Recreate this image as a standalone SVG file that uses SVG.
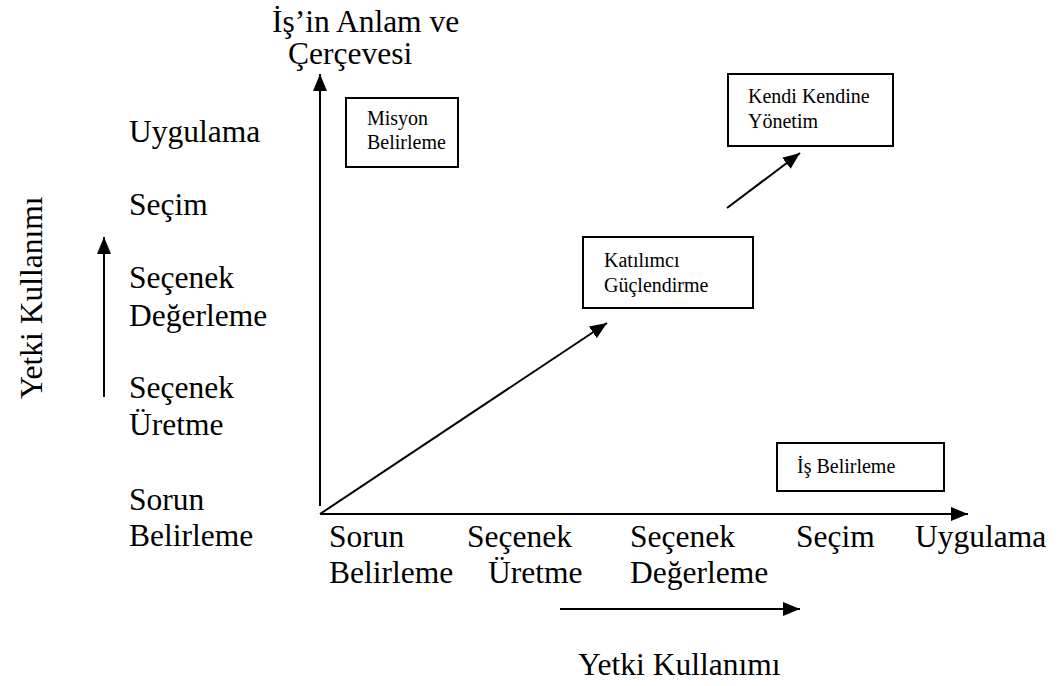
<svg xmlns="http://www.w3.org/2000/svg" width="1058" height="686" viewBox="0 0 1058 686">
  <style>
    .lbl { font-size: 31.5px; }
    .box { fill: #fff; stroke: #000; stroke-width: 2; }
    .bt { font-size: 20px; }
    .ln { stroke: #000; stroke-width: 2; fill: none; }
  </style>
  <defs>
    <marker id="ah" markerUnits="userSpaceOnUse" markerWidth="17" markerHeight="14" refX="17" refY="7" orient="auto">
      <path d="M0,0 L17,7 L0,14 z" fill="#000"/>
    </marker>
  </defs>
  <rect width="1058" height="686" fill="#fff"/>

  <!-- axes and arrows -->
  <g id="connectors">
    <line class="ln" x1="320" y1="506" x2="320" y2="74" marker-end="url(#ah)"/>
    <line class="ln" x1="320" y1="514" x2="968" y2="514" marker-end="url(#ah)"/>
    <line class="ln" x1="320" y1="514" x2="607" y2="323" marker-end="url(#ah)"/>
    <line class="ln" x1="727" y1="208" x2="800" y2="153" marker-end="url(#ah)"/>
    <line class="ln" x1="104" y1="397" x2="104" y2="237" marker-end="url(#ah)"/>
    <line class="ln" x1="560" y1="609" x2="800" y2="609" marker-end="url(#ah)"/>
  </g>

  <g font-family="'Liberation Serif', 'DejaVu Serif', serif" fill="#000">
    <!-- axis titles -->
    <g id="title-vertical">
      <text class="lbl" x="272" y="32">İş’in Anlam ve</text>
      <text class="lbl" x="288" y="64">Çerçevesi</text>
    </g>
    <text id="title-left" class="lbl" transform="translate(42,399) rotate(-90)">Yetki Kullanımı</text>
    <text id="title-bottom" class="lbl" x="578" y="675">Yetki Kullanımı</text>

    <!-- vertical scale -->
    <g id="scale-y">
      <text class="lbl" x="129" y="142">Uygulama</text>
      <text class="lbl" x="129" y="215">Seçim</text>
      <text class="lbl" x="129" y="288">Seçenek</text>
      <text class="lbl" x="129" y="326">Değerleme</text>
      <text class="lbl" x="129" y="398">Seçenek</text>
      <text class="lbl" x="129" y="435">Üretme</text>
      <text class="lbl" x="129" y="510">Sorun</text>
      <text class="lbl" x="129" y="546">Belirleme</text>
    </g>

    <!-- horizontal scale -->
    <g id="scale-x">
      <text class="lbl" x="329" y="547">Sorun</text>
      <text class="lbl" x="329" y="583">Belirleme</text>
      <text class="lbl" x="467" y="547">Seçenek</text>
      <text class="lbl" x="488" y="583">Üretme</text>
      <text class="lbl" x="630" y="547">Seçenek</text>
      <text class="lbl" x="630" y="583">Değerleme</text>
      <text class="lbl" x="796" y="547">Seçim</text>
      <text class="lbl" x="915" y="547">Uygulama</text>
    </g>

    <!-- boxes -->
    <g id="misyon">
      <rect class="box" x="346" y="98" width="112" height="69"/>
      <text class="bt" x="367" y="125">Misyon</text>
      <text class="bt" x="367" y="149">Belirleme</text>
    </g>
    <g id="kendi">
      <rect class="box" x="728" y="74" width="165" height="72"/>
      <text class="bt" x="748" y="103">Kendi Kendine</text>
      <text class="bt" x="748" y="128">Yönetim</text>
    </g>
    <g id="katilimci">
      <rect class="box" x="583" y="237" width="170" height="71"/>
      <text class="bt" x="604" y="267">Katılımcı</text>
      <text class="bt" x="604" y="292">Güçlendirme</text>
    </g>
    <g id="is">
      <rect class="box" x="777" y="443" width="167" height="48"/>
      <text class="bt" x="797" y="473">İş Belirleme</text>
    </g>
  </g>
</svg>
